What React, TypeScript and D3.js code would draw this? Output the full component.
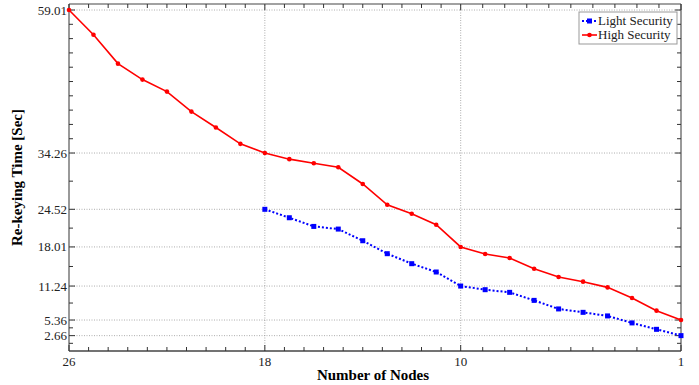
import React, { useEffect, useRef } from 'react'
import * as d3 from 'd3'

const nodesHigh = d3.range(26, 0, -1)
const highSecurity = [59.01, 54.74, 49.73, 46.97, 44.89, 41.43, 38.67, 35.85, 34.26, 33.2, 32.5, 31.8, 28.9, 25.3, 23.75, 21.85, 18.01, 16.78, 16.09, 14.24, 12.81, 12.0, 11.01, 9.18, 6.98, 5.36]
const nodesLight = d3.range(18, 0, -1)
const lightSecurity = [24.52, 23.06, 21.56, 21.1, 19.08, 16.84, 15.11, 13.67, 11.24, 10.61, 10.15, 8.76, 7.28, 6.69, 6.07, 4.86, 3.75, 2.66]
const xTicks = [26, 18, 10, 1]
const yTicks = [2.66, 5.36, 11.24, 18.01, 24.52, 34.26, 59.01]

const W = 699
const H = 385
const m = { left: 69, right: 18, top: 4, bottom: 34 }
const FONT = '"Liberation Serif", "Times New Roman", serif'

export default function App() {
  const ref = useRef<SVGSVGElement>(null)

  useEffect(() => {
    const svg = d3.select(ref.current)
    svg.selectAll('*').remove()

    const x = d3.scaleLinear().domain([26, 1]).range([m.left, W - m.right])
    const y = d3.scaleLinear().domain([0, 60.05]).range([H - m.bottom, m.top])
    const x0 = m.left, x1 = W - m.right, y0 = H - m.bottom, y1 = m.top

    // minor ticks
    const xMinor: number[] = []
    for (let i = 0; i < xTicks.length - 1; i++) {
      const a = xTicks[i], b = xTicks[i + 1]
      for (let k = 1; k < 10; k++) xMinor.push(a + (b - a) * k / 10)
    }
    const yMinor: number[] = []
    const ySteps = [0, ...yTicks]
    for (let i = 0; i < ySteps.length - 1; i++) {
      const a = ySteps[i], b = ySteps[i + 1]
      const n = i === ySteps.length - 2 ? 10 : 2
      for (let k = 1; k < n; k++) yMinor.push(a + (b - a) * k / n)
    }

    const g = svg.append('g')

    // grid
    g.selectAll('.gy').data(yTicks).enter().append('line')
      .attr('x1', x0).attr('x2', x1)
      .attr('y1', d => y(d)).attr('y2', d => y(d))
      .attr('stroke', '#999').attr('stroke-width', 0.8).attr('stroke-dasharray', '1,1.5')
    g.selectAll('.gx').data(xTicks.slice(1, -1)).enter().append('line')
      .attr('x1', d => x(d)).attr('x2', d => x(d))
      .attr('y1', y0).attr('y2', y1)
      .attr('stroke', '#999').attr('stroke-width', 0.8).attr('stroke-dasharray', '1,1.5')

    // frame
    g.append('line').attr('x1', x0).attr('x2', x0).attr('y1', y0).attr('y2', y1).attr('stroke', '#999').attr('stroke-width', 2)
    g.append('line').attr('x1', x1).attr('x2', x1).attr('y1', y0).attr('y2', y1).attr('stroke', '#999').attr('stroke-width', 2)
    g.append('line').attr('x1', x0).attr('x2', x1).attr('y1', y0).attr('y2', y0).attr('stroke', '#444').attr('stroke-width', 1.5)
    g.append('line').attr('x1', x0).attr('x2', x1).attr('y1', y1).attr('y2', y1).attr('stroke', '#444').attr('stroke-width', 1.2)

    // ticks
    const tickCol = '#333'
    const xt = [...xTicks.map(v => ({ v, len: 6 })), ...xMinor.map(v => ({ v, len: 4 }))]
    xt.forEach(t => {
      g.append('line').attr('x1', x(t.v)).attr('x2', x(t.v)).attr('y1', y0).attr('y2', y0 - t.len).attr('stroke', tickCol)
      g.append('line').attr('x1', x(t.v)).attr('x2', x(t.v)).attr('y1', y1).attr('y2', y1 + t.len).attr('stroke', tickCol)
    })
    const yt = [...yTicks.map(v => ({ v, len: 6 })), ...yMinor.map(v => ({ v, len: 4 }))]
    yt.forEach(t => {
      g.append('line').attr('x1', x0).attr('x2', x0 + t.len).attr('y1', y(t.v)).attr('y2', y(t.v)).attr('stroke', tickCol)
      g.append('line').attr('x1', x1).attr('x2', x1 - t.len).attr('y1', y(t.v)).attr('y2', y(t.v)).attr('stroke', tickCol)
    })

    // tick labels
    g.selectAll('.xl').data(xTicks).enter().append('text')
      .attr('x', d => x(d)).attr('y', y0 + 15)
      .attr('text-anchor', 'middle').attr('font-family', FONT).attr('font-size', 13).attr('fill', '#222')
      .text(d => d)
    g.selectAll('.yl').data(yTicks).enter().append('text')
      .attr('x', x0 - 2).attr('y', d => y(d)).attr('dy', '0.35em')
      .attr('text-anchor', 'end').attr('font-family', FONT).attr('font-size', 13).attr('fill', '#222')
      .text(d => d.toFixed(2))

    // axis titles
    g.append('text').attr('x', 373).attr('y', 380).attr('text-anchor', 'middle')
      .attr('font-family', FONT).attr('font-size', 15).attr('font-weight', 'bold').text('Number of Nodes')
    g.append('text').attr('transform', `translate(22,${(y0 + y1) / 2}) rotate(-90)`).attr('text-anchor', 'middle')
      .attr('font-family', FONT).attr('font-size', 15).attr('font-weight', 'bold').text('Re-keying Time [Sec]')

    // lines
    const line = d3.line<[number, number]>().x(d => x(d[0])).y(d => y(d[1]))
    const high = nodesHigh.map((n, i) => [n, highSecurity[i]] as [number, number])
    const light = nodesLight.map((n, i) => [n, lightSecurity[i]] as [number, number])

    g.append('path').datum(light).attr('d', line).attr('fill', 'none')
      .attr('stroke', '#0000ff').attr('stroke-width', 2).attr('stroke-dasharray', '2,2')
    g.selectAll('.lm').data(light).enter().append('rect')
      .attr('x', d => x(d[0]) - 2.5).attr('y', d => y(d[1]) - 2.5)
      .attr('width', 5).attr('height', 5).attr('fill', '#0000ff')

    g.append('path').datum(high).attr('d', line).attr('fill', 'none')
      .attr('stroke', '#ff0000').attr('stroke-width', 1.6)
    g.selectAll('.hm').data(high).enter().append('circle')
      .attr('cx', d => x(d[0])).attr('cy', d => y(d[1])).attr('r', 2.3).attr('fill', '#ff0000')

    // legend
    const lg = g.append('g').attr('transform', 'translate(579,12)')
    lg.append('rect').attr('width', 98).attr('height', 32).attr('fill', '#fff').attr('stroke', '#999')
    lg.append('line').attr('x1', 3).attr('x2', 18).attr('y1', 9).attr('y2', 9)
      .attr('stroke', '#0000ff').attr('stroke-width', 2).attr('stroke-dasharray', '2,2')
    lg.append('rect').attr('x', 8).attr('y', 6.5).attr('width', 5).attr('height', 5).attr('fill', '#0000ff')
    lg.append('line').attr('x1', 3).attr('x2', 18).attr('y1', 23).attr('y2', 23)
      .attr('stroke', '#ff0000').attr('stroke-width', 1.6)
    lg.append('circle').attr('cx', 10.5).attr('cy', 23).attr('r', 2.3).attr('fill', '#ff0000')
    lg.append('text').attr('x', 19).attr('y', 13).attr('font-family', FONT).attr('font-size', 13).attr('fill', '#222').text('Light Security')
    lg.append('text').attr('x', 19).attr('y', 27).attr('font-family', FONT).attr('font-size', 13).attr('fill', '#222').text('High Security')
  }, [])

  return <svg ref={ref} width={W} height={H} style={{ position: 'absolute', left: 0, top: 0 }} />
}
